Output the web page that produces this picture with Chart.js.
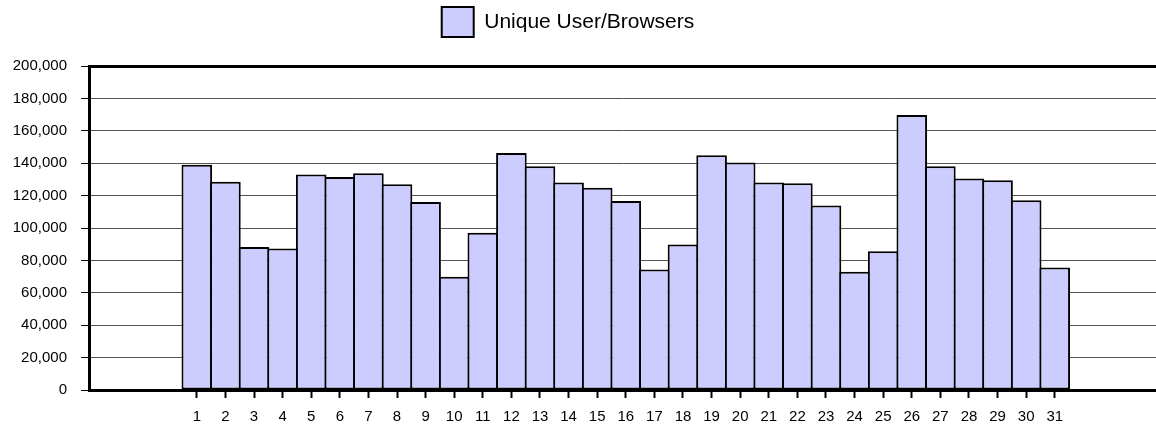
<!DOCTYPE html>
<html>
<head>
<meta charset="utf-8">
<title>Unique User/Browsers</title>
<script src="https://cdn.jsdelivr.net/npm/chart.js@4.4.1/dist/chart.umd.min.js"></script>
<style>
    html, body { margin: 0; padding: 0; background: #fff; }
    #wrap { position: relative; width: 1156px; height: 426px; }
</style>
</head>
<body>
<div id="wrap"><canvas id="visitsChart"></canvas></div>
<script>
// ---- DATA ----
const days = [1, 2, 3, 4, 5, 6, 7, 8, 9, 10, 11, 12, 13, 14, 15, 16,
    17, 18, 19, 20, 21, 22, 23, 24, 25, 26, 27, 28, 29, 30, 31];
const uniqueVisitors = [139000, 128500, 88300, 87300, 133000, 131500, 133800, 127000,
    116000, 69900, 97100, 146300, 138100, 128100, 124800, 116600,
    74400, 89800, 144900, 140400, 128100, 127700, 113900, 73000,
    85700, 169700, 138100, 130500, 129500, 117200, 75600];
const seriesLabel = 'Unique User/Browsers';
const yTicks = [0, 20000, 40000, 60000, 80000, 100000, 120000, 140000, 160000, 180000, 200000];

Chart.defaults.font.family = "'Liberation Sans', Arial, sans-serif";
Chart.defaults.color = '#000';

// nudges the legend to where the original sits (a bit left of centre, at the very top)
const legendNudge = {
    id: 'legendNudge',
    afterLayout(chart) {
        const lg = chart.legend;
        lg.left -= 10; lg.right -= 10;
        lg.top -= 19; lg.bottom -= 19;
    }
};

const yMax = yTicks[yTicks.length - 1];

new Chart(document.getElementById('visitsChart'), {
    type: 'bar',
    data: {
        datasets: [{
            label: seriesLabel,
            data: days.map((d, i) => ({ x: d, y: uniqueVisitors[i] })),
            backgroundColor: '#CCCCFF',
            borderColor: '#000',
            borderWidth: 2,
            borderSkipped: false,
            barPercentage: 1,
            categoryPercentage: 1.07
        }]
    },
    options: {
        responsive: true,
        maintainAspectRatio: false,
        animation: false,
        layout: { padding: { left: 0, right: 0, top: 19, bottom: 0 } },
        plugins: {
            tooltip: { enabled: false },
            legend: {
                position: 'top',
                labels: {
                    boxWidth: 32,
                    boxHeight: 30,
                    padding: 7,
                    color: '#000',
                    font: { size: 21 }
                }
            }
        },
        scales: {
            x: {
                type: 'linear',
                min: -2.77,
                max: 34.54,
                offset: false,
                border: { color: '#000', width: 3 },
                grid: { offset: false, drawOnChartArea: false, tickLength: 8, tickColor: '#000', tickWidth: 2 },
                ticks: {
                    stepSize: 1,
                    maxTicksLimit: 100,
                    includeBounds: false,
                    autoSkip: false,
                    maxRotation: 0,
                    padding: 10,
                    font: { size: 15 }
                },
                afterBuildTicks: axis => {
                    axis.ticks = axis.ticks.filter(t => t.value >= days[0] && t.value <= days[days.length - 1]);
                },
                afterFit: axis => { axis.height = 36; }
            },
            y: {
                min: yTicks[0],
                max: yMax,
                border: { color: '#000', width: 3 },
                grid: {
                    color: ctx => ctx.tick.value === yMax ? '#000' : '#555',
                    lineWidth: ctx => ctx.tick.value === yMax ? 3 : 1,
                    tickLength: 8,
                    tickColor: '#000',
                    tickWidth: 1
                },
                ticks: {
                    stepSize: yTicks[1] - yTicks[0],
                    maxTicksLimit: 100,
                    padding: 14,
                    font: { size: 15 },
                    callback: v => v.toLocaleString('en-US')
                },
                afterFit: axis => { axis.width = 89; }
            }
        }
    },
    plugins: [legendNudge]
});
</script>
</body>
</html>
